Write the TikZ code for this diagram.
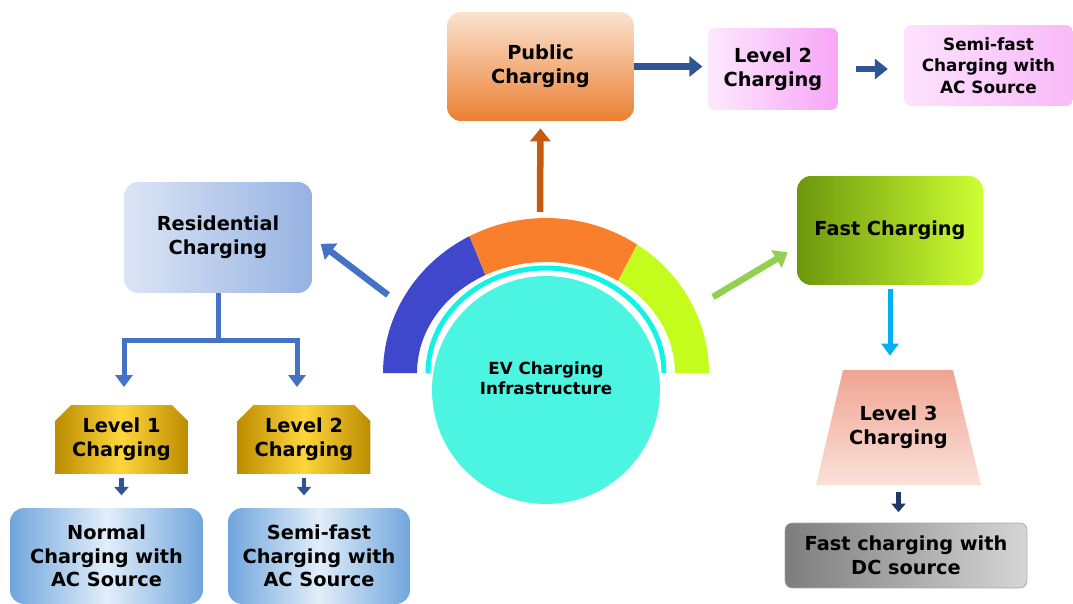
\documentclass[tikz,border=0pt]{standalone}
\usepackage{fontspec}
\setmainfont{DejaVu Sans}
\usetikzlibrary{arrows.meta,shapes.misc,positioning}

\definecolor{ringblue}{HTML}{3F48CC}
\definecolor{ringorange}{HTML}{FA7F2C}
\definecolor{ringlime}{HTML}{C4FC1C}
\definecolor{ringcyan}{HTML}{12F3E6}
\definecolor{hubcyan}{HTML}{4CF5E1}
\definecolor{arrblue}{HTML}{4472C4}
\definecolor{arrnavy}{HTML}{2F5597}
\definecolor{arrdark}{HTML}{1F3864}
\definecolor{arrrust}{HTML}{C55A11}
\definecolor{arrgreen}{HTML}{92D050}
\definecolor{arrsky}{HTML}{00B0F0}

\begin{document}
\begin{tikzpicture}[x=0.02cm,y=0.02cm,
  txt/.style={align=center,inner sep=0pt,font=\fontsize{11pt}{13.5pt}\selectfont\bfseries},
  gold/.style={left color={rgb,255:red,188;green,140;blue,0},right color={rgb,255:red,188;green,140;blue,0},
    middle color={rgb,255:red,255;green,214;blue,60}},
  sky/.style={left color={rgb,255:red,112;green,166;blue,220},right color={rgb,255:red,112;green,166;blue,220},
    middle color={rgb,255:red,226;green,238;blue,250}},
  fat/.style={line width=0.13cm,-{Triangle[length=0.26cm,width=0.4cm]}},
  thin/.style={line width=0.09cm,-{Triangle[length=0.17cm,width=0.28cm]}}]
%\draw[step=50,gray,very thin] (0,0) grid (1073,603);
\useasboundingbox (0,0) rectangle (1073,603);

% coloured ring round the hub
\foreach \a/\b/\c in {180/118/ringblue,118/56/ringorange,56/0/ringlime}
  \fill[\c] ([shift={(\a:3.26cm and 3.1cm)}]546,230)
    arc[start angle=\a,end angle=\b,x radius=3.26cm,y radius=3.1cm]
    -- ([shift={(\b:2.58cm and 2.22cm)}]546,230)
    arc[start angle=\b,end angle=\a,x radius=2.58cm,y radius=2.22cm] -- cycle;
\draw[ringcyan,line width=0.1cm] ([shift={(180:2.36cm and 2.1cm)}]546,230)
  arc[start angle=180,end angle=0,x radius=2.36cm,y radius=2.1cm];

\node[txt,circle,fill=hubcyan,minimum size=4.56cm,font=\fontsize{9.5pt}{11.5pt}\selectfont\bfseries]
  (hub) at (546,213) {EV Charging\\Infrastructure\\[2pt]};

\coordinate (arctop) at (540,391);
\coordinate (arcleft) at (388,308);
\coordinate (arcright) at (713,306);

% public branch
\node[txt,rounded corners=0.28cm,minimum width=3.74cm,minimum height=2.18cm,
  top color={rgb,255:red,251;green,226;blue,208},bottom color={rgb,255:red,235;green,128;blue,50}]
  (pub) at (540.5,536.5) {Public\\Charging};
\node[txt,rounded corners=4pt,minimum width=2.6cm,minimum height=1.64cm,
  left color={rgb,255:red,253;green,232;blue,253},right color={rgb,255:red,247;green,166;blue,247}]
  (lvtwo) at (773,534) {Level 2\\Charging};
\node[txt,rounded corners=4pt,minimum width=3.38cm,minimum height=1.62cm,
  font=\fontsize{9.6pt}{12.4pt}\selectfont\bfseries,
  left color={rgb,255:red,253;green,226;blue,253},right color={rgb,255:red,249;green,186;blue,249}]
  (semitop) at (988.5,537.5) {Semi-fast\\Charging with\\AC Source};

\draw[fat,arrrust,shorten >=4] (arctop) -- (pub.south);
\draw[fat,arrnavy,shorten >=3] (pub.east) -- (pub.east -| lvtwo.west);
\draw[fat,arrnavy,shorten <=10,shorten >=9] (lvtwo.east) -- (lvtwo.east -| semitop.west);

% residential branch
\node[txt,rounded corners=0.28cm,minimum width=3.76cm,minimum height=2.22cm,
  left color={rgb,255:red,220;green,229;blue,245},right color={rgb,255:red,150;green,178;blue,226}]
  (res) at (218,365.5) {Residential\\Charging};
\foreach \n/\x/\t in {lvone/121.5/Level 1,lvtwob/304/Level 2}
  \node[txt,gold,shape=chamfered rectangle,chamfered rectangle corners={north west,north east},
    chamfered rectangle xsep=0.16cm,chamfered rectangle ysep=0.16cm,
    minimum width=2.66cm,minimum height=1.38cm]
    (\n) at (\x,163.5) {\t\\Charging};
\node[txt,sky,rounded corners=0.28cm,minimum width=3.86cm,minimum height=1.92cm]
  (normal) at (106.5,47) {Normal\\Charging with\\AC Source};
\node[txt,sky,rounded corners=0.28cm,minimum width=3.64cm,minimum height=1.92cm]
  (semibot) at (319,47) {Semi-fast\\Charging with\\AC Source};

\coordinate (split) at (218,263);
\draw[fat,arrblue,shorten >=6] (arcleft) -- (res.east);
\draw[arrblue,line width=0.1cm] (res.south) -- (split);
\draw[line width=0.1cm,arrblue,-{Triangle[length=0.24cm,width=0.34cm]},shorten >=10]
  (split) -| ([xshift=0.05cm]lvone.north);
\draw[line width=0.1cm,arrblue,-{Triangle[length=0.24cm,width=0.34cm]},shorten >=10]
  (split) -| ([xshift=-0.14cm]lvtwob.north);
\draw[thin,arrnavy,shorten <=2,shorten >=7] (lvone.south) -- (lvone.south |- normal.north);
\draw[thin,arrnavy,shorten <=2,shorten >=7] (lvtwob.south) -- (lvtwob.south |- semibot.north);

% fast branch
\node[txt,rounded corners=0.28cm,minimum width=3.72cm,minimum height=2.18cm,
  left color={rgb,255:red,108;green,151;blue,13},right color={rgb,255:red,206;green,255;blue,50}]
  (fast) at (890,372.5) {Fast Charging};
\shade[top color={rgb,255:red,240;green,164;blue,146},bottom color={rgb,255:red,251;green,225;blue,217}]
  (816,118) -- (843,233) -- (953,233) -- (981,118) -- cycle;
\node[txt,minimum width=3.3cm,minimum height=2.3cm] (lvthree) at (898.5,175.5) {Level 3\\Charging};
\node[txt,rounded corners=4pt,minimum width=4.84cm,minimum height=1.3cm,draw=gray!70,
  left color={rgb,255:red,125;green,125;blue,125},right color={rgb,255:red,214;green,214;blue,214}]
  (dc) at (906,47.5) {Fast charging with\\DC source};

\draw[fat,arrgreen,shorten >=6] (arcright) -- (fast.190);
\draw[line width=0.1cm,arrsky,-{Triangle[length=0.24cm,width=0.34cm]},shorten <=2,shorten >=8]
  (fast.south) -- (fast.south |- lvthree.north);
\draw[thin,arrdark,shorten <=4,shorten >=6] (lvthree.south) -- (lvthree.south |- dc.north);
\end{tikzpicture}
\end{document}
